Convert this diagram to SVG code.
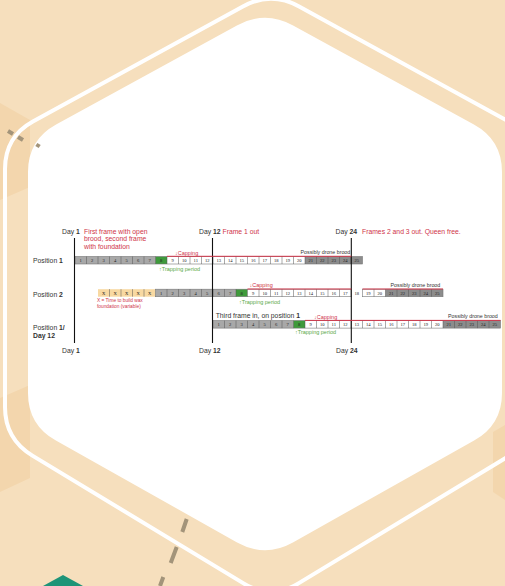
<svg xmlns="http://www.w3.org/2000/svg" width="505" height="586" viewBox="0 0 505 586">
<defs>
<style>
.bg{fill:#f6dfbd}
.patch{fill:#f3d6ad}
.dash{stroke:#a3947a;stroke-width:4;fill:none}
.lbl{font-family:"Liberation Sans",Arial,sans-serif;font-size:6.8px;fill:#333}
.red{font-family:"Liberation Sans",Arial,sans-serif;font-size:6.8px;fill:#cf3449}
.sm{font-family:"Liberation Sans",Arial,sans-serif;font-size:5.3px;fill:#333}
.smr{font-family:"Liberation Sans",Arial,sans-serif;font-size:5.5px;fill:#cf3449}
.smg{font-family:"Liberation Sans",Arial,sans-serif;font-size:5.5px;fill:#5aa846}
.tiny{font-family:"Liberation Sans",Arial,sans-serif;font-size:4.8px;fill:#cf3449}
.n{font-family:"Liberation Serif","Times New Roman",serif;font-size:4.6px;fill:#222;text-anchor:middle}
.b{font-weight:bold}
.gray{fill:#a8a8a8}
.dark{fill:#8c8c8c}
.white{fill:#ffffff}
.green{fill:#3f9a3c}
.wax{fill:#f8d9a2}
.outline{fill:none;stroke:#777;stroke-width:0.6}
.div{fill:none;stroke:#555;stroke-width:0.5}
.capline{stroke:#cf3449;stroke-width:1;fill:none}
.dayline{stroke:#111;stroke-width:1.1;fill:none}
</style>
</defs>
<rect class="bg" x="0" y="0" width="505" height="586"/>
<polygon class="patch" points="0,103 30,120 30,187 0,200"/>
<polygon class="patch" points="0,398 30,385 30,478 0,492"/>
<polygon class="patch" points="505,425 493,432 493,492 505,500"/>
<path d="M242.9,6.4 Q271,-9 299.1,6.4 L508.9,121.6 Q537,137 537,169 L537,407 Q537,439 509.6,455.6 L298.4,583.4 Q271,600 243.6,583.4 L32.4,455.6 Q5,439 5,407 L5,169 Q5,137 32.9,121.6 Z" fill="none" stroke="#ffffff" stroke-width="4"/>
<path d="M236.9,25.4 Q265,10 293.1,25.4 L473.9,124.6 Q502,140 502,172 L502,393 Q502,425 474.1,440.6 L292.9,542.4 Q265,558 237.1,542.4 L55.9,440.6 Q28,425 28,393 L28,172 Q28,140 56.1,124.6 Z" fill="#ffffff"/>
<g id="decor">
<path class="dash" d="M8,131 L13,134 M18,137 L23,140"/>
<path class="dash" d="M39,144 L37,147" stroke-width="3"/>
<path class="dash" d="M186.7,519 L182.3,532 M176.7,547 L170.7,563 M163.3,577 L160,586"/>
<polygon points="43,586 63,575 83,586" fill="#1e9478"/>
</g>
<g id="labels">
<text class="lbl" x="62" y="234">Day <tspan class="b">1</tspan></text>
<text class="red" x="84" y="233.5">First frame with open</text>
<text class="red" x="84" y="241">brood, second frame</text>
<text class="red" x="84" y="248.5">with foundation</text>
<text class="lbl" x="199" y="234">Day <tspan class="b">12</tspan></text>
<text class="red" x="222.5" y="234">Frame 1 out</text>
<text class="lbl" x="335.5" y="234">Day <tspan class="b">24</tspan></text>
<text class="red" x="362" y="234">Frames 2 and 3 out. Queen free.</text>
<text class="lbl" x="33" y="263">Position <tspan class="b">1</tspan></text>
<text class="lbl" x="33" y="296.5">Position <tspan class="b">2</tspan></text>
<text class="lbl" x="33" y="330">Position <tspan class="b">1/</tspan></text>
<text class="lbl b" x="33" y="338">Day 12</text>
<text class="lbl" x="62" y="353">Day <tspan class="b">1</tspan></text>
<text class="lbl" x="199" y="353">Day <tspan class="b">12</tspan></text>
<text class="lbl" x="336" y="353">Day <tspan class="b">24</tspan></text>
</g>
<g id="row1">
<rect class="gray" x="75" y="256.5" width="80.5" height="7.5"/>
<rect class="green" x="155.5" y="256.5" width="11.5" height="7.5"/>
<rect class="white" x="167" y="256.5" width="138" height="7.5"/>
<rect class="dark" x="305" y="256.5" width="57.5" height="7.5"/>
<rect class="outline" x="75" y="256.5" width="287.5" height="7.5"/>
<path class="div" d="M86.5,256.5v7.5M98,256.5v7.5M109.5,256.5v7.5M121,256.5v7.5M132.5,256.5v7.5M144,256.5v7.5M155.5,256.5v7.5M167,256.5v7.5M178.5,256.5v7.5M190,256.5v7.5M201.5,256.5v7.5M213,256.5v7.5M224.5,256.5v7.5M236,256.5v7.5M247.5,256.5v7.5M259,256.5v7.5M270.5,256.5v7.5M282,256.5v7.5M293.5,256.5v7.5M305,256.5v7.5M316.5,256.5v7.5M328,256.5v7.5M339.5,256.5v7.5M351,256.5v7.5"/>
<text class="n" x="80.75" y="262">1</text><text class="n" x="92.25" y="262">2</text><text class="n" x="103.75" y="262">3</text><text class="n" x="115.25" y="262">4</text><text class="n" x="126.75" y="262">5</text><text class="n" x="138.25" y="262">6</text><text class="n" x="149.75" y="262">7</text><text class="n" x="161.25" y="262">8</text><text class="n" x="172.75" y="262">9</text><text class="n" x="184.25" y="262">10</text><text class="n" x="195.75" y="262">11</text><text class="n" x="207.25" y="262">12</text><text class="n" x="218.75" y="262">13</text><text class="n" x="230.25" y="262">14</text><text class="n" x="241.75" y="262">15</text><text class="n" x="253.25" y="262">16</text><text class="n" x="264.75" y="262">17</text><text class="n" x="276.25" y="262">18</text><text class="n" x="287.75" y="262">19</text><text class="n" x="299.25" y="262">20</text><text class="n" x="310.75" y="262">21</text><text class="n" x="322.25" y="262">22</text><text class="n" x="333.75" y="262">23</text><text class="n" x="345.25" y="262">24</text><text class="n" x="356.75" y="262">25</text>
</g>
<g id="row2">
<rect class="wax" x="98" y="289.2" width="57.5" height="7.5"/>
<rect class="gray" x="155.5" y="289.2" width="80.5" height="7.5"/>
<rect class="green" x="236" y="289.2" width="11.5" height="7.5"/>
<rect class="white" x="247.5" y="289.2" width="103.5" height="7.5"/>
<rect class="outline" x="155.5" y="289.2" width="195.5" height="7.5"/>
<rect class="white" x="362.5" y="289.2" width="23" height="7.5"/>
<rect class="dark" x="385.5" y="289.2" width="57.5" height="7.5"/>
<rect class="outline" x="362.5" y="289.2" width="80.5" height="7.5"/>
<path class="div" d="M109.5,289.2v7.5M121,289.2v7.5M132.5,289.2v7.5M144,289.2v7.5" stroke="#e6c48c"/>
<path class="div" d="M167,289.2v7.5M178.5,289.2v7.5M190,289.2v7.5M201.5,289.2v7.5M213,289.2v7.5M224.5,289.2v7.5M236,289.2v7.5M247.5,289.2v7.5M259,289.2v7.5M270.5,289.2v7.5M282,289.2v7.5M293.5,289.2v7.5M305,289.2v7.5M316.5,289.2v7.5M328,289.2v7.5M339.5,289.2v7.5M374,289.2v7.5M385.5,289.2v7.5M397,289.2v7.5M408.5,289.2v7.5M420,289.2v7.5M431.5,289.2v7.5"/>
<text class="n" x="103.75" y="294.7">X</text><text class="n" x="115.25" y="294.7">X</text><text class="n" x="126.75" y="294.7">X</text><text class="n" x="138.25" y="294.7">X</text><text class="n" x="149.75" y="294.7">X</text>
<text class="n" x="161.25" y="294.7">1</text><text class="n" x="172.75" y="294.7">2</text><text class="n" x="184.25" y="294.7">3</text><text class="n" x="195.75" y="294.7">4</text><text class="n" x="207.25" y="294.7">5</text><text class="n" x="218.75" y="294.7">6</text><text class="n" x="230.25" y="294.7">7</text><text class="n" x="241.75" y="294.7">8</text><text class="n" x="253.25" y="294.7">9</text><text class="n" x="264.75" y="294.7">10</text><text class="n" x="276.25" y="294.7">11</text><text class="n" x="287.75" y="294.7">12</text><text class="n" x="299.25" y="294.7">13</text><text class="n" x="310.75" y="294.7">14</text><text class="n" x="322.25" y="294.7">15</text><text class="n" x="333.75" y="294.7">16</text><text class="n" x="345.25" y="294.7">17</text><text class="n" x="356.75" y="294.7">18</text><text class="n" x="368.25" y="294.7">19</text><text class="n" x="379.75" y="294.7">20</text><text class="n" x="391.25" y="294.7">21</text><text class="n" x="402.75" y="294.7">22</text><text class="n" x="414.25" y="294.7">23</text><text class="n" x="425.75" y="294.7">24</text><text class="n" x="437.25" y="294.7">25</text>
</g>
<g id="row3">
<rect class="gray" x="213" y="320.6" width="80.5" height="7.5"/>
<rect class="green" x="293.5" y="320.6" width="11.5" height="7.5"/>
<rect class="white" x="305" y="320.6" width="138" height="7.5"/>
<rect class="dark" x="443" y="320.6" width="57.5" height="7.5"/>
<rect class="outline" x="213" y="320.6" width="287.5" height="7.5"/>
<path class="div" d="M224.5,320.6v7.5M236,320.6v7.5M247.5,320.6v7.5M259,320.6v7.5M270.5,320.6v7.5M282,320.6v7.5M293.5,320.6v7.5M305,320.6v7.5M316.5,320.6v7.5M328,320.6v7.5M339.5,320.6v7.5M351,320.6v7.5M362.5,320.6v7.5M374,320.6v7.5M385.5,320.6v7.5M397,320.6v7.5M408.5,320.6v7.5M420,320.6v7.5M431.5,320.6v7.5M443,320.6v7.5M454.5,320.6v7.5M466,320.6v7.5M477.5,320.6v7.5M489,320.6v7.5"/>
<text class="n" x="218.75" y="326.1">1</text><text class="n" x="230.25" y="326.1">2</text><text class="n" x="241.75" y="326.1">3</text><text class="n" x="253.25" y="326.1">4</text><text class="n" x="264.75" y="326.1">5</text><text class="n" x="276.25" y="326.1">6</text><text class="n" x="287.75" y="326.1">7</text><text class="n" x="299.25" y="326.1">8</text><text class="n" x="310.75" y="326.1">9</text><text class="n" x="322.25" y="326.1">10</text><text class="n" x="333.75" y="326.1">11</text><text class="n" x="345.25" y="326.1">12</text><text class="n" x="356.75" y="326.1">13</text><text class="n" x="368.25" y="326.1">14</text><text class="n" x="379.75" y="326.1">15</text><text class="n" x="391.25" y="326.1">16</text><text class="n" x="402.75" y="326.1">17</text><text class="n" x="414.25" y="326.1">18</text><text class="n" x="425.75" y="326.1">19</text><text class="n" x="437.25" y="326.1">20</text><text class="n" x="448.75" y="326.1">21</text><text class="n" x="460.25" y="326.1">22</text><text class="n" x="471.75" y="326.1">23</text><text class="n" x="483.25" y="326.1">24</text><text class="n" x="494.75" y="326.1">25</text>
</g>
<g id="day-lines">
<path class="dayline" d="M74.5,238 V343 M212.5,238 V343 M351.3,238 V343"/>
</g>
<g id="annotations">
<path class="capline" d="M167,256.3 H351.3 M247.5,289 H351.3 M362.5,289 H443 M305,320.4 H500.5"/>
<text class="smr" x="175" y="254.5">↓Capping</text>
<text class="sm" x="300.5" y="253.5">Possibly drone brood</text>
<text class="smg" x="159" y="270.5">↑Trapping period</text>
<text class="smr" x="249.5" y="287.3">↓Capping</text>
<text class="sm" x="390.5" y="287">Possibly drone brood</text>
<text class="smg" x="239" y="304">↑Trapping period</text>
<text class="tiny" x="97" y="302">X = Time to build wax</text>
<text class="tiny" x="97" y="308">foundation (variable)</text>
<text class="lbl" x="215.7" y="317.5">Third frame in, on position <tspan class="b">1</tspan></text>
<text class="smr" x="314" y="318.5">↓Capping</text>
<text class="sm" x="448" y="318">Possibly drone brood</text>
<text class="smg" x="295" y="334">↑Trapping period</text>
</g>
</svg>
